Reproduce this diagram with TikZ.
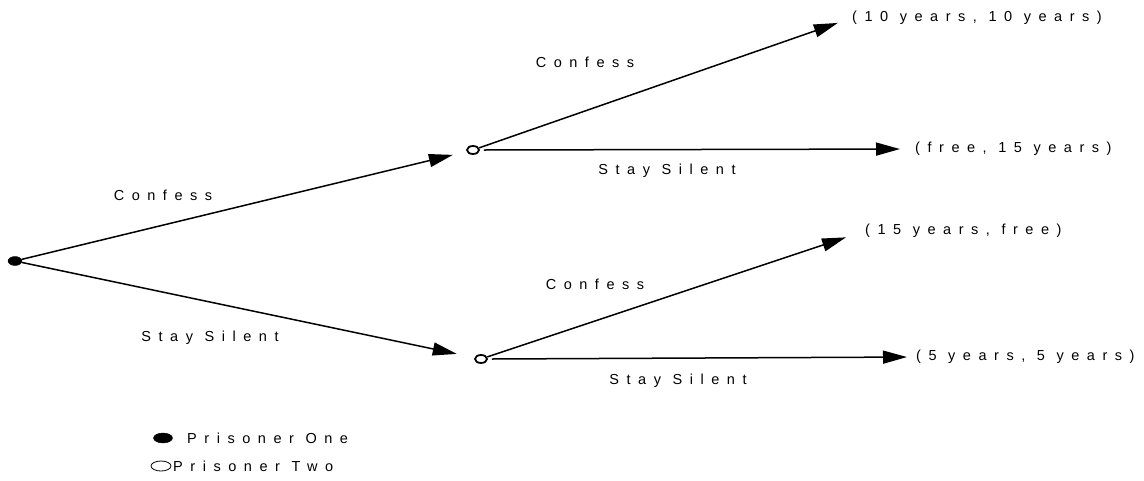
\documentclass[tikz,border=0pt]{standalone}
\usepackage{fontspec}
\setmainfont{Liberation Sans}[LetterSpace=52]
\usetikzlibrary{shapes.geometric,arrows.meta}
\begin{document}
\begin{tikzpicture}[x=1pt,y=-1pt,
  every node/.style={font=\fontsize{14.5}{17}\selectfont},
  p1node/.style={ellipse,fill=black,draw=black,minimum width=14pt,minimum height=9pt,inner sep=0pt},
  p2node/.style={ellipse,draw=black,line width=1.8pt,fill=white,minimum width=12pt,minimum height=8pt,inner sep=0pt},
  payoff/.style={anchor=west,inner sep=0pt},
  lbl/.style={inner sep=0pt},
  move/.style={line width=1.5pt,-{Triangle[length=24pt,width=13pt]}},
]
\useasboundingbox (0,0) rectangle (1144,480);

% decision nodes
\node[p1node] (root) at (15,261) {};
\node[p2node] (upper) at (473,150) {};
\node[p2node] (lower) at (481,359) {};

% outcomes
\node[payoff] (cc) at (852,18) {(10 years, 10 years)};
\node[payoff] (cs) at (915,149) {(free, 15 years)};
\node[payoff] (sc) at (865,231) {(15 years, free)};
\node[payoff] (ss) at (916,357) {(5 years, 5 years)};

% moves of prisoner one
\draw[move,shorten >=14pt] (root) -- (upper);
\draw[move,shorten >=18pt] (root) -- (lower);

% moves of prisoner two
\draw[move,shorten >=15pt] (upper) -- (cc.west);
\draw[move,shorten >=15pt] (upper.east) ++(4,0) -- (cs.west);
\draw[move,shorten >=20pt] (lower) -- (sc.west);
\draw[move,shorten >=9pt] (lower.east) ++(4,0) -- (ss.west);

% move labels
\node[lbl] (l1) at (163,195) {Confess};
\node[lbl] (l2) at (210,338) {Stay Silent};
\node[lbl] (l3) at (585,62) {Confess};
\node[lbl] (l4) at (667,171) {Stay Silent};
\node[lbl] (l5) at (595,284) {Confess};
\node[lbl] (l6) at (678,381) {Stay Silent};

% legend
\node[p1node,minimum width=19pt,minimum height=10pt] (k1) at (163,438) {};
\node[anchor=west,inner sep=0pt] (k1t) at (187,438) {Prisoner One};
\node[ellipse,draw=black,line width=0.8pt,minimum width=20pt,minimum height=10pt,inner sep=0pt] (k2) at (161,466) {};
\node[anchor=west,inner sep=0pt] (k2t) at (173,466) {Prisoner Two};
\end{tikzpicture}
\end{document}
